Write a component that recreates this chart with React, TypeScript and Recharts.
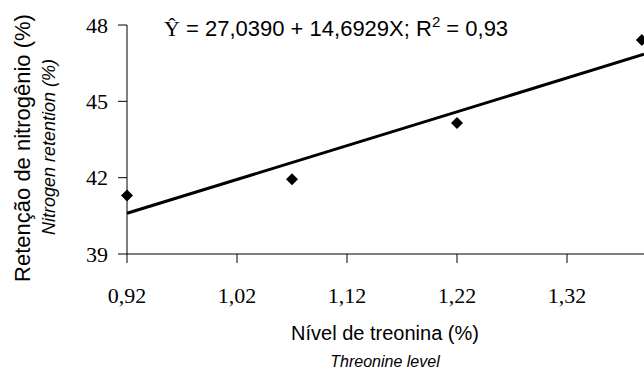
import { ScatterChart, Scatter, XAxis, YAxis, Customized } from "recharts";

// Observed nitrogen retention per threonine level
const levels = [0.92, 1.07, 1.22, 1.388];
const retention = [41.3, 41.94, 44.15, 47.41];

// Fitted line end points
const fitX = [0.92, 1.39];
const fitY = [40.6, 46.85];

const xTicks = [0.92, 1.02, 1.12, 1.22, 1.32];
const yTicks = [39, 42, 45, 48];

const points = levels.map((x, i) => ({ x, y: retention[i] }));
const fit = fitX.map((x, i) => ({ x, y: fitY[i] }));

const serif = "Liberation Serif";
const sans = "Liberation Sans";

const Diamond = (props: any) => {
  const { cx, cy } = props;
  const r = 6;
  return (
    <path
      d={`M${cx},${cy - r} L${cx + r},${cy} L${cx},${cy + r} L${cx - r},${cy} Z`}
      fill="#000"
    />
  );
};

const Labels = () => (
  <g>
    <text x={164} y={36} fontSize={22} fill="#000">
      <tspan fontFamily={serif}>Ŷ</tspan>
      <tspan fontFamily={sans}> = 27,0390 + 14,6929X; R</tspan>
      <tspan fontFamily={sans} fontSize={15} dy={-9}>2</tspan>
      <tspan fontFamily={sans} dy={9}> = 0,93</tspan>
    </text>
    <text
      transform="translate(30,148) rotate(-90)"
      textAnchor="middle"
      fontFamily={sans}
      fontSize={22}
      fill="#000"
    >
      Retenção de nitrogênio (%)
    </text>
    <text
      transform="translate(55,147) rotate(-90)"
      textAnchor="middle"
      fontFamily={sans}
      fontStyle="italic"
      fontSize={18}
      fill="#000"
    >
      Nitrogen retention (%)
    </text>
    <text
      x={385}
      y={340}
      textAnchor="middle"
      fontFamily={sans}
      fontSize={20}
      fill="#000"
    >
      Nível de treonina (%)
    </text>
    <text
      x={385}
      y={367}
      textAnchor="middle"
      fontFamily={sans}
      fontStyle="italic"
      fontSize={16}
      fill="#000"
    >
      Threonine level
    </text>
  </g>
);

export default function App() {
  return (
    <div
      style={{
        position: "absolute",
        left: 0,
        top: 0,
        width: 644,
        height: 385,
        background: "#fff",
        fontFamily: serif,
      }}
    >
      <ScatterChart
        width={644}
        height={385}
        margin={{ top: 25, right: 0, bottom: 91, left: 0 }}
        style={{ fontFamily: serif }}
      >
        <XAxis
          type="number"
          dataKey="x"
          domain={[0.92, 1.39]}
          ticks={xTicks}
          tickFormatter={(v: number) => v.toFixed(2).replace(".", ",")}
          tick={{ fontFamily: serif, fontSize: 22, fill: "#000" }}
          tickSize={9}
          tickMargin={24}
          height={40}
          stroke="#000"
        />
        <YAxis
          type="number"
          dataKey="y"
          domain={[39, 48]}
          ticks={yTicks}
          tick={{ fontFamily: serif, fontSize: 22, fill: "#000" }}
          tickSize={9}
          tickMargin={10}
          width={127}
          stroke="#000"
        />
        <Scatter
          data={fit}
          line={{ stroke: "#000", strokeWidth: 3 }}
          shape={() => null}
          isAnimationActive={false}
        />
        <Scatter data={points} shape={Diamond} isAnimationActive={false} />
        <Customized component={Labels} />
      </ScatterChart>
    </div>
  );
}
